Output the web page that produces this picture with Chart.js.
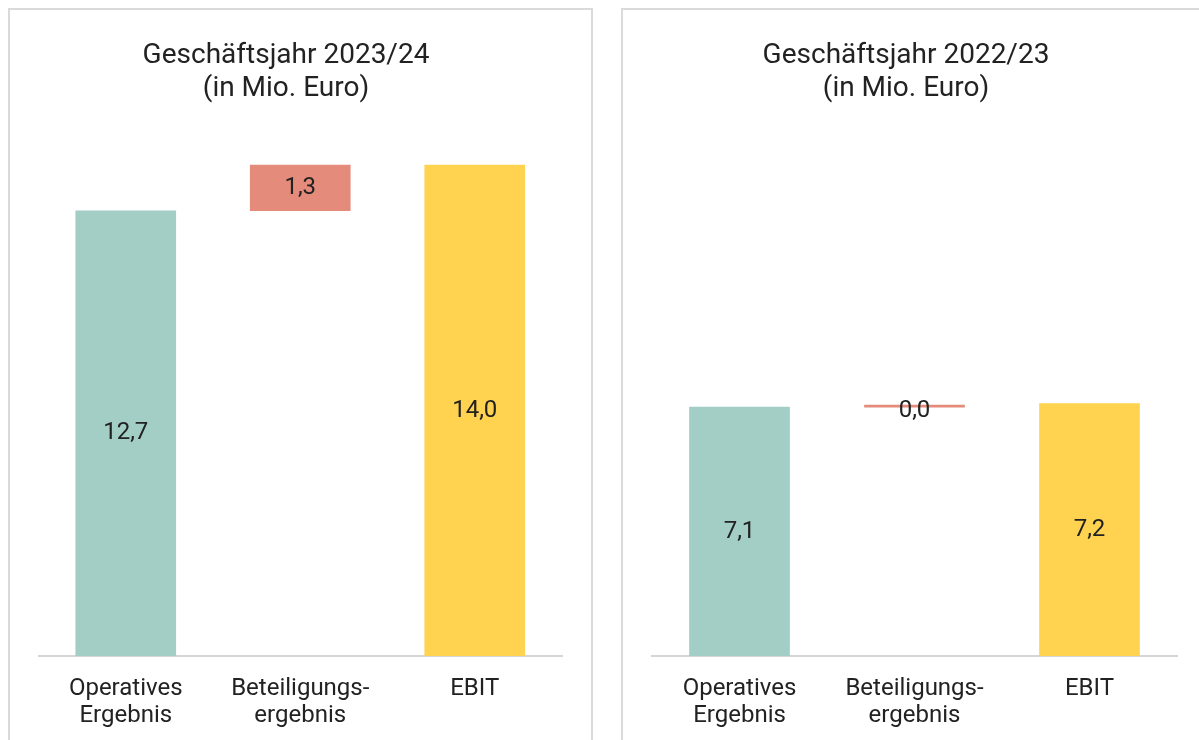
<!DOCTYPE html>
<html lang="de">
<head>
<meta charset="utf-8">
<title>Operatives Ergebnis, Beteiligungsergebnis, EBIT</title>
<script src="https://cdn.jsdelivr.net/npm/chart.js@4.4.1/dist/chart.umd.min.js"></script>
<style>
  html, body {
    margin: 0;
    padding: 0;
    background: #ffffff;
    overflow: hidden;
  }
  .panel {
    position: absolute;
    top: 8px;
    height: 760px;
    border: 2px solid #dadada;
    box-sizing: border-box;
  }
  #panelLeft { left: 8px; width: 585px; }
  #panelRight { left: 621px; width: 600px; }
  .box {
    position: absolute;
    top: 10px;
    height: 740px;
  }
  #boxLeft { left: 10px; width: 580px; }
  #boxRight { left: 624px; width: 575px; }
</style>
</head>
<body>
<div class="panel" id="panelLeft"></div>
<div class="panel" id="panelRight"></div>
<div class="box" id="boxLeft"><canvas id="chartLeft"></canvas></div>
<div class="box" id="boxRight"><canvas id="chartRight"></canvas></div>
<script>
const categories = [
  ["Operatives", "Ergebnis"],
  ["Beteiligungs-", "ergebnis"],
  ["EBIT"]
];
const values2023 = [12.7, 1.3, 14.0];
const values2022 = [7.1, 0.0, 7.2];
const yMax = 15;

const barColors = ["#a2cec6", "#e48b7b", "#ffd34f"];
const textColor = "#222222";

Chart.defaults.font.family = "Roboto, sans-serif";
Chart.defaults.color = textColor;

function formatDe(value) {
  return value.toFixed(1).replace(".", ",");
}

// start / end pairs for a simple waterfall: result, delta on top, total
function waterfall(values) {
  return [
    [0, values[0]],
    [values[0], values[0] + values[1]],
    [0, values[2]]
  ];
}

const barValueLabels = {
  id: "barValues",
  afterDatasetsDraw(chart, args, opts) {
    const { ctx } = chart;
    const meta = chart.getDatasetMeta(0);
    ctx.save();
    ctx.font = "24px Roboto, sans-serif";
    ctx.fillStyle = textColor;
    ctx.textAlign = "center";
    ctx.textBaseline = "middle";
    meta.data.forEach((bar, i) => {
      const p = bar.getCenterPoint();
      const shift = Math.abs(bar.height) < 4 ? 5 : 0;
      ctx.fillText(formatDe(opts.values[i]), p.x, p.y + shift);
    });
    ctx.restore();
  }
};

function createWaterfall(id, titleYear, values, yAxisWidth, padLeft, padRight) {
  const ctx = document.getElementById(id);
  if (!ctx) return;

  new Chart(ctx, {
    type: "bar",
    data: {
      labels: categories,
      datasets: [
        {
          data: waterfall(values),
          backgroundColor: barColors,
          barThickness: 100,
          minBarLength: 2,
          borderSkipped: false
        }
      ]
    },
    options: {
      responsive: true,
      maintainAspectRatio: false,
      animation: false,
      layout: {
        padding: { left: padLeft, right: padRight, top: 0, bottom: 2 }
      },
      plugins: {
        legend: { display: false },
        tooltip: { enabled: false },
        title: {
          display: true,
          text: ["Geschäftsjahr " + titleYear, "(in Mio. Euro)"],
          color: textColor,
          font: { family: "Roboto, sans-serif", size: 28, weight: "normal", lineHeight: 1.18 },
          padding: { top: 29, bottom: 25 }
        },
        barValues: { values: values }
      },
      scales: {
        x: {
          grid: { display: false, drawTicks: false },
          border: { display: true, color: "#d6d6d6", width: 2 },
          ticks: {
            color: textColor,
            font: { size: 24, lineHeight: 1.125 },
            padding: 19,
            maxRotation: 0,
            autoSkip: false
          }
        },
        y: {
          min: 0,
          max: yMax,
          grid: { display: false, drawTicks: false },
          border: { display: false },
          ticks: { display: false },
          afterFit: scale => { scale.width = yAxisWidth; }
        }
      }
    },
    plugins: [barValueLabels]
  });
}

function init() {
  createWaterfall("chartLeft", "2023/24", values2023, 28.5, 0, 28);
  createWaterfall("chartRight", "2022/23", values2022, 17, 11, 22);
}

document.addEventListener("DOMContentLoaded", init);
</script>
</body>
</html>
